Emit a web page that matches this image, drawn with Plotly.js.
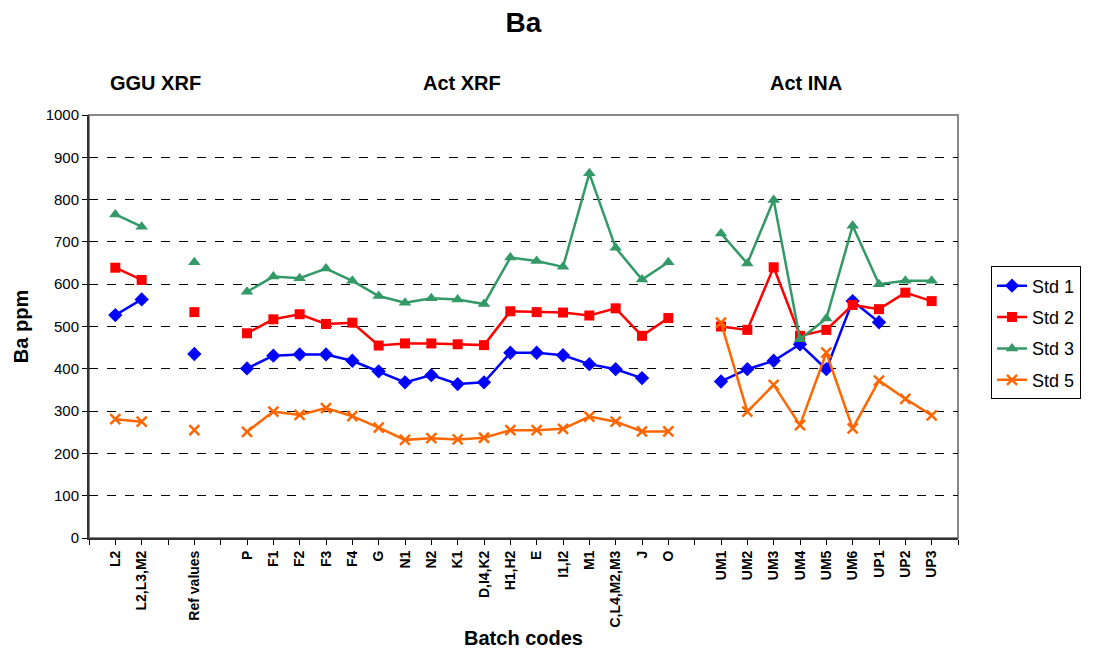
<!DOCTYPE html>
<html>
<head>
<meta charset="utf-8">
<script src="https://cdn.plot.ly/plotly-3.0.1.min.js"></script>
<style>html,body{margin:0;padding:0;background:#fff;}#chart{width:1109px;height:655px;}</style>
</head>
<body>
<div id="chart"></div>
<script>
const categories = ["", "L2", "L2,L3,M2", "", "Ref values", "", "P", "F1", "F2", "F3", "F4", "G", "N1", "N2", "K1", "D,I4,K2", "H1,H2", "E", "I1,I2", "M1", "C,L4,M2,M3", "J", "O", "", "UM1", "UM2", "UM3", "UM4", "UM5", "UM6", "UP1", "UP2", "UP3", ""];
const std1 = [null,527,564,null,435,null,401,431,434,434,419,394,368,385,364,368,438,438,432,411,399,378,null,null,370,399,419,458,399,560,510,null,null,null];
const std2 = [null,639,610,null,534,null,484,517,529,506,509,455,460,460,458,456,536,534,533,526,543,478,520,null,500,492,640,478,492,551,541,580,560,null];
const std3 = [null,765,736,null,652,null,582,618,614,637,608,572,556,567,564,553,663,655,641,862,686,611,652,null,720,649,799,470,519,738,600,608,608,null];
const std5 = [null,281,275,null,255,null,251,299,291,307,288,261,232,236,233,237,255,255,258,287,275,252,252,null,509,299,362,267,438,259,372,329,290,null];
const seriesNames = ["Std 1", "Std 2", "Std 3", "Std 5"];
const sections = [{text: "GGU XRF", at: "L2,L3,M2"}, {text: "Act XRF", at: "K1"}, {text: "Act INA", at: "UM4"}];

const xs = categories.map((c, i) => i);
const FONT = "Liberation Sans, Arial, sans-serif";

const styles = [
  {color: "#0000FF", symbol: "diamond", size: 11},
  {color: "#FF0000", symbol: "square", size: 10},
  {color: "#339966", symbol: "triangle-up", size: 11},
  {color: "#FF6600", symbol: "x-thin-open", size: 10}
];
const series = [std1, std2, std3, std5];
const traces = series.map((ys, k) => ({
  x: xs, y: ys, name: seriesNames[k], type: "scatter", mode: "lines+markers",
  connectgaps: false, legendgroup: "g" + k,
  line: {color: styles[k].color, width: 2.5},
  marker: {color: styles[k].color, symbol: styles[k].symbol, size: styles[k].size,
           line: {color: styles[k].color, width: k === 3 ? 2.5 : 0}}
}));

const secOffs = [{d: 0.54, a: "center"}, {d: 0.17, a: "center"}, {d: -1.21, a: "left"}];
const secAnn = sections.map((s, i) => ({
  text: "<b>" + s.text + "</b>", x: categories.indexOf(s.at) + secOffs[i].d, y: 1.076, xref: "x", yref: "paper",
  showarrow: false, font: {family: FONT, size: 20, color: "#000"}, xanchor: secOffs[i].a, yanchor: "middle"
}));

const layout = {
  width: 1109, height: 655,
  paper_bgcolor: "#fff", plot_bgcolor: "#fff",
  margin: {l: 89, r: 151, t: 115, b: 117},
  title: {text: "<b>Ba</b>", font: {family: FONT, size: 28, color: "#000"}, x: 0.472, xref: "container", y: 0.966, yanchor: "middle"},
  showlegend: true,
  legend: {x: 1.038, xanchor: "left", y: 0.642, yanchor: "top", bordercolor: "#000", borderwidth: 1,
           bgcolor: "#fff", font: {family: FONT, size: 18, color: "#000"}, traceorder: "grouped", tracegroupgap: 5},
  xaxis: {
    type: "linear", range: [0, 33], tickmode: "array", tickvals: xs, ticktext: categories.map(c => "<b>" + c + "</b>"),
    tickangle: -90, tickfont: {family: FONT, size: 14, color: "#000"},
    ticks: "outside", ticklen: 5, tickcolor: "#000", tickwidth: 1,
    showgrid: false, zeroline: false, showline: true, linecolor: "#333", linewidth: 2,
    title: {text: "<b>Batch codes</b>", font: {family: FONT, size: 20, color: "#000"}, standoff: 4},
    fixedrange: true
  },
  yaxis: {
    range: [0, 1000], dtick: 100, tick0: 0,
    tickfont: {family: FONT, size: 15, color: "#000"},
    ticks: "outside", ticklen: 5, tickcolor: "#000",
    showgrid: true, gridcolor: "#000", gridwidth: 1, griddash: "dash",
    zeroline: false, showline: true, linecolor: "#333", linewidth: 2,
    title: {text: "<b>Ba ppm</b>", font: {family: FONT, size: 20, color: "#000"}, standoff: 12},
    fixedrange: true
  },
  shapes: [{type: "rect", xref: "paper", yref: "paper", x0: 0, x1: 1, y0: 0, y1: 1,
            line: {color: "#888", width: 2}, layer: "below"}],
  annotations: secAnn
};

Plotly.newPlot("chart", traces, layout, {displayModeBar: false, staticPlot: true});
</script>
</body>
</html>
